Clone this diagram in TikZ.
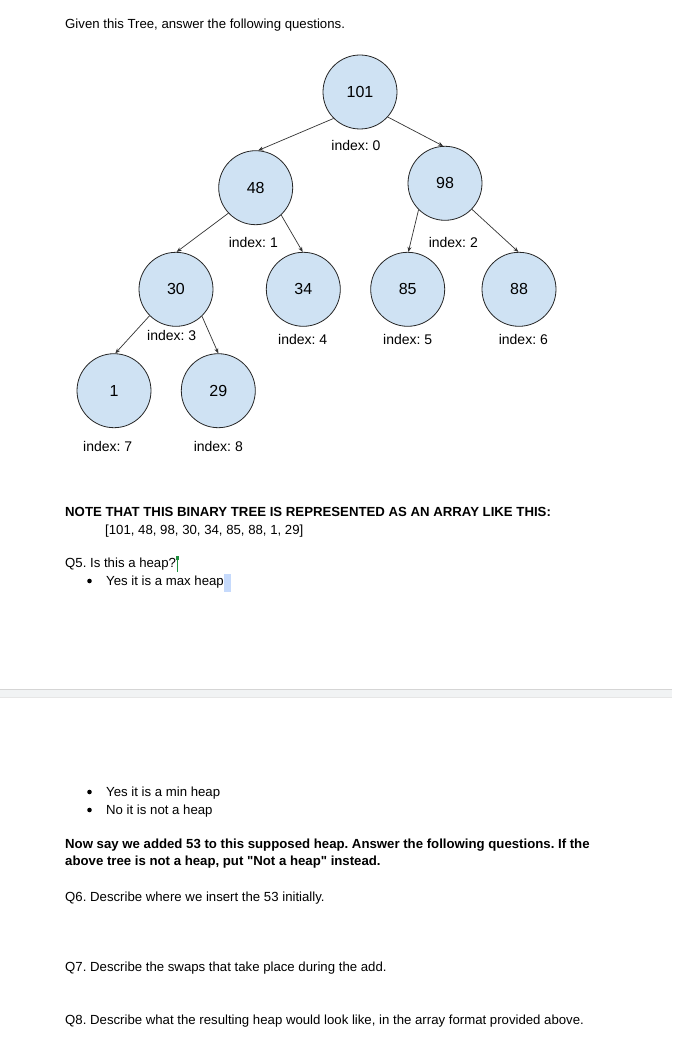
\documentclass[tikz,border=0pt]{standalone}
\usepackage{fontspec}
\setmainfont{Liberation Sans}[Ligatures=TeXOff]
\usetikzlibrary{arrows.meta}
\definecolor{nodefill}{HTML}{CFE2F3}
\definecolor{cursorgreen}{HTML}{1E8E3E}
\definecolor{hlblue}{HTML}{C6DAFC}
\definecolor{pbband}{HTML}{F1F3F4}
\definecolor{pbline}{HTML}{D5D5D5}
\frenchspacing
\begin{document}
\begin{tikzpicture}[x=1pt,y=-1pt,
  heapnode/.style={circle,draw=black!85,line width=0.8pt,fill=nodefill,minimum size=74pt,inner sep=0pt,font=\fontsize{16}{18}\selectfont},
  idxlabel/.style={inner sep=0pt,font=\fontsize{14}{16}\selectfont},
  arr/.style={draw=black!80,line width=0.7pt,-{Stealth[length=5pt,width=4pt]}},
  txt/.style={anchor=base west,inner sep=0pt,font=\fontsize{13.2}{15}\selectfont\frenchspacing},
  btxt/.style={txt,font=\fontsize{13.2}{15}\selectfont\bfseries\frenchspacing}]
\useasboundingbox (0,0) rectangle (672,1043);
\fill[white] (0,0) rectangle (672,1043);

\node[txt] (title) at (65,29) {Given this Tree, answer the following questions.};

% tree
\node[heapnode] (n0) at (360,92) {101};
\node[heapnode] (n1) at (255.7,187.7) {48};
\node[heapnode] (n2) at (445,183.3) {98};
\node[heapnode] (n3) at (176,289.3) {30};
\node[heapnode] (n4) at (303.3,289.3) {34};
\node[heapnode] (n5) at (407.7,289.3) {85};
\node[heapnode] (n6) at (519,289.3) {88};
\node[heapnode] (n7) at (114,390.7) {1};
\node[heapnode] (n8) at (218.3,390.7) {29};

\node[idxlabel] (l0) at (356,145.7) {index: 0};
\node[idxlabel] (l1) at (253.3,242.3) {index: 1};
\node[idxlabel] (l2) at (453.3,242.3) {index: 2};
\node[idxlabel] (l3) at (171.7,335) {index: 3};
\node[idxlabel] (l4) at (302.7,339) {index: 4};
\node[idxlabel] (l5) at (407.7,339) {index: 5};
\node[idxlabel] (l6) at (523.3,339) {index: 6};
\node[idxlabel] (l7) at (107.7,446.7) {index: 7};
\node[idxlabel] (l8) at (218.3,446.7) {index: 8};

\draw[arr] (n0.225) -- (n1.86);
\draw[arr] (n0.318) -- (n2.93);
\draw[arr] (n1.223) -- (n3.89);
\draw[arr] (n1.313) -- (n4.91);
\draw[arr] (n2.225) -- (n5.89);
\draw[arr] (n2.316) -- (n6.91);
\draw[arr] (n3.225) -- (n7.88);
\draw[arr] (n3.314) -- (n8.90);

% text block
\node[btxt] (note) at (65,516.4) {NOTE THAT THIS BINARY TREE IS REPRESENTED AS AN ARRAY LIKE THIS:};
\node[txt] (array) at (105,534) {[101, 48, 98, 30, 34, 85, 88, 1, 29]};
\node[txt] (q5) at (65,567.4) {Q5. Is this a heap?};
\node[txt] (a1) at (106,585.7) {Yes it is a max heap};
\fill[hlblue] ([xshift=0.3pt,yshift=11.4pt]a1.base east) rectangle ([xshift=6.6pt,yshift=-6pt]a1.base east);
\fill (89.5,581) circle (2.3);
\draw[cursorgreen,line width=0.7pt] ([xshift=0.8pt,yshift=11pt]q5.base east) -- ([xshift=0.8pt,yshift=-4.3pt]q5.base east);
\fill[cursorgreen] ([xshift=-0.7pt,yshift=11.9pt]q5.base east) rectangle ([xshift=2.3pt,yshift=7.9pt]q5.base east);

% page break
\fill[pbband] (0,689) rectangle (672,697.7);
\draw[pbline,line width=0.8pt] (0,689.3) -- (672,689.3);
\draw[pbline!60,line width=0.5pt] (0,697.5) -- (672,697.5);

\fill (89.5,792) circle (2.3);
\node[txt] (a2) at (106,796.4) {Yes it is a min heap};
\fill (89.5,810) circle (2.3);
\node[txt] (a3) at (106,814) {No it is not a heap};

\node[btxt] (now1) at (65,848.7) {Now say we added 53 to this supposed heap. Answer the following questions. If the};
\node[btxt] (now2) at (65,865.7) {above tree is not a heap, put "Not a heap" instead.};

\node[txt] (q6) at (65,901.4) {Q6. Describe where we insert the 53 initially.};
\node[txt] (q7) at (65,971.4) {Q7. Describe the swaps that take place during the add.};
\node[txt] (q8) at (65,1024) {Q8. Describe what the resulting heap would look like, in the array format provided above.};
\end{tikzpicture}
\end{document}
